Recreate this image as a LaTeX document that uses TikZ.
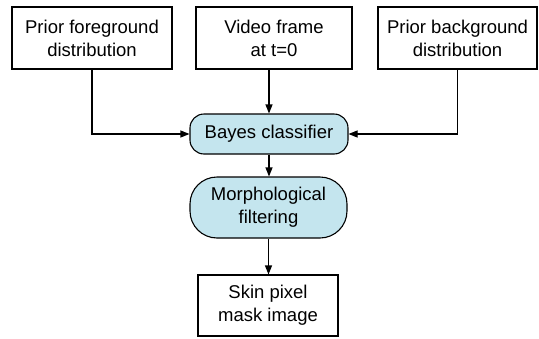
\documentclass[tikz,border=0pt]{standalone}
\usepackage{fontspec}
\setmainfont{Liberation Sans}
\usetikzlibrary{arrows.meta}
\definecolor{procfill}{HTML}{C4E5EE}
\begin{document}
\begin{tikzpicture}[x=1pt,y=-1pt,
  every node/.style={font=\fontsize{18.5}{23}\selectfont, align=center, inner sep=0pt},
  databox/.style={draw, line width=1.1pt, fill=white},
  procbox/.style={draw, line width=1.1pt, fill=procfill},
  conn/.style={line width=1.1pt, -{Triangle[length=9pt,width=7pt]}}]
\useasboundingbox (0,0) rectangle (539,338);
\node[databox, minimum width=160pt, minimum height=62pt] (fg) at (92,38) {Prior foreground\\distribution};
\node[databox, minimum width=156pt, minimum height=62pt] (vf) at (274,38) {Video frame\\at t=0};
\node[databox, minimum width=159pt, minimum height=62pt] (bg) at (457.5,38) {Prior background\\distribution};
\node[procbox, rounded corners=14pt, minimum width=158pt, minimum height=40pt] (bc) at (269,134) {Bayes classifier};
\node[procbox, rounded corners=27pt, minimum width=157pt, minimum height=61pt] (mf) at (268.5,207.5) {Morphological\\filtering};
\node[databox, minimum width=140pt, minimum height=61pt] (sk) at (268,305.5) {Skin pixel\\mask image};
\draw[conn] (fg.south) |- (bc.west);
\draw[conn] (bg.south) |- (bc.east);
\draw[conn] (vf.south -| bc.north) -- (bc.north);
\draw[conn] (bc.south) -- (bc.south |- mf.north);
\draw[conn] (mf.south) -- (mf.south |- sk.north);
\end{tikzpicture}
\end{document}
